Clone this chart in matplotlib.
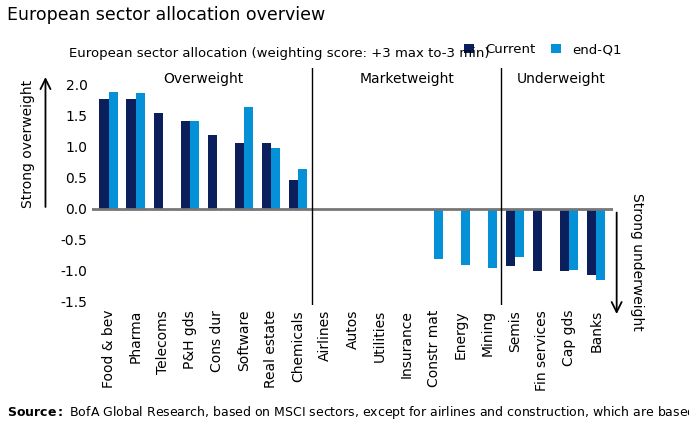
import numpy as np
import matplotlib.pyplot as plt

categories = ['Food & bev', 'Pharma', 'Telecoms', 'P&H gds', 'Cons dur', 'Software',
              'Real estate', 'Chemicals', 'Airlines', 'Autos', 'Utilities', 'Insurance',
              'Constr mat', 'Energy', 'Mining', 'Semis', 'Fin services', 'Cap gds', 'Banks']
current = [1.78, 1.78, 1.55, 1.42, 1.19, 1.06, 1.06, 0.47, 0, 0, 0, 0,
           0, 0, 0, -0.92, -1.0, -1.0, -1.06]
end_q1 = [1.88, 1.87, 0, 1.42, 0, 1.65, 0.98, 0.65, 0, 0, 0, 0,
          -0.8, -0.9, -0.95, -0.77, 0, -0.98, -1.15]

navy = '#0a1f5c'
blue = '#0591d8'

fig = plt.figure(figsize=(6.89, 4.37), dpi=100)
ax = fig.add_axes([0.134, 0.302, 0.755, 0.542])
x = np.arange(len(categories))
w = 0.34
ax.bar(x - w / 2, current, w, color=navy, label='Current')
ax.bar(x + w / 2, end_q1, w, color=blue, label='end-Q1')
ax.axhline(0, color='#777777', lw=2)
ax.axvline(7.5, color='black', lw=1)
ax.axvline(14.5, color='black', lw=1)
ax.set_xlim(-0.6, len(categories) - 0.4)
ax.set_ylim(-1.55, 2.27)
ax.set_yticks([2.0, 1.5, 1.0, 0.5, 0.0, -0.5, -1.0, -1.5])
ax.set_yticklabels(['2.0', '1.5', '1.0', '0.5', '0.0', '-0.5', '-1.0', '-1.5'], fontsize=10)
ax.set_xticks(x)
ax.set_xticklabels(categories, rotation=90, fontsize=10)
ax.tick_params(length=0)
for s in ax.spines.values():
    s.set_visible(False)

ax.text(3.5, 2.1, 'Overweight', ha='center', va='center', fontsize=10)
ax.text(11, 2.1, 'Marketweight', ha='center', va='center', fontsize=10)
ax.text(16.7, 2.1, 'Underweight', ha='center', va='center', fontsize=10)

fig.text(0.01, 0.965, 'European sector allocation overview', fontsize=12.5, va='center')
fig.text(0.10, 0.878, 'European sector allocation (weighting score: +3 max to-3 min)',
         fontsize=9.5, va='center')
ax.legend(loc='lower right', bbox_to_anchor=(1.04, 1.0), ncol=2, frameon=False,
          fontsize=9.5, handlelength=0.8, columnspacing=1.2)

# arrows
ax.annotate('', xy=(0.066, 0.83), xytext=(0.066, 0.52), xycoords='figure fraction',
            textcoords='figure fraction', annotation_clip=False,
            arrowprops=dict(arrowstyle='->', lw=1.3, mutation_scale=18))
fig.text(0.04, 0.67, 'Strong overweight', rotation=90, ha='center', va='center', fontsize=10)
ax.annotate('', xy=(0.895, 0.275), xytext=(0.895, 0.52), xycoords='figure fraction',
            textcoords='figure fraction', annotation_clip=False,
            arrowprops=dict(arrowstyle='->', lw=1.3, mutation_scale=18))
fig.text(0.925, 0.40, 'Strong underweight', rotation=270, ha='center', va='center', fontsize=10)

fig.text(0.01, 0.055, r'$\bf{Source:}$ BofA Global Research, based on MSCI sectors, except for airlines and construction, which are based on LSE',
         fontsize=9, va='center')
fig.savefig('out.png', dpi=100)
